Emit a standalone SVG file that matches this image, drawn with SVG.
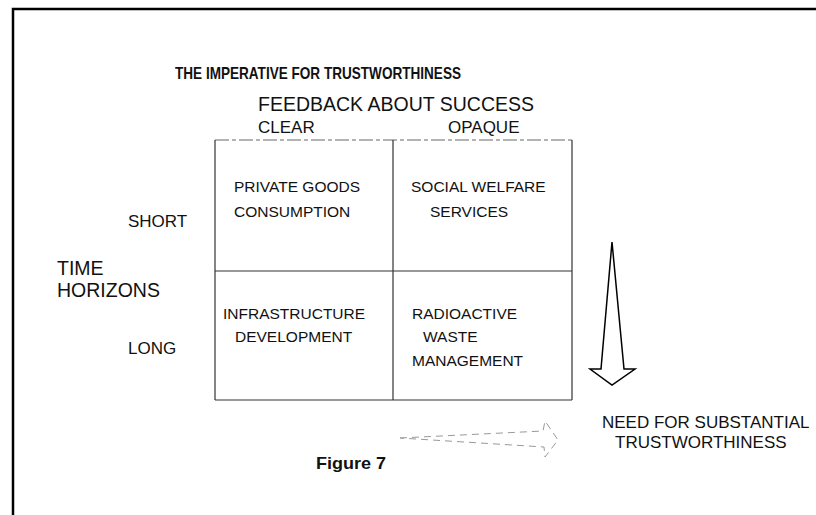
<svg xmlns="http://www.w3.org/2000/svg" width="816" height="515" viewBox="0 0 816 515">
<style>
text{font-family:"Liberation Sans",Arial,Helvetica,sans-serif;fill:#111}
.b{font-weight:bold}
.grid{stroke:#333;stroke-width:1.2;fill:none}
.faint{stroke:#666;stroke-width:1;stroke-dasharray:14 3 4 3}
.frame{stroke:#000;stroke-width:2.5;fill:none}
.cell{font-size:15.5px}
.ax{font-size:17px}
.big{font-size:19.5px}
</style>
<rect width="816" height="515" fill="#fff"/>
<g id="frame">
<polyline class="frame" points="13,515 13,9 816,9"/>
</g>
<g id="title">
<text class="b" x="175" y="79" font-size="16.5" textLength="286" lengthAdjust="spacingAndGlyphs">THE IMPERATIVE FOR TRUSTWORTHINESS</text>
</g>
<g id="feedback-axis">
<text class="big" x="258" y="111" textLength="276" lengthAdjust="spacingAndGlyphs">FEEDBACK ABOUT SUCCESS</text>
<text class="ax" x="258" y="133">CLEAR</text>
<text class="ax" x="448" y="133">OPAQUE</text>
</g>
<g id="time-axis">
<text class="big" x="57" y="275">TIME</text>
<text class="big" x="57" y="297">HORIZONS</text>
<text class="ax" x="128" y="227">SHORT</text>
<text class="ax" x="128" y="354">LONG</text>
</g>
<g id="grid">
<line class="grid faint" x1="215" y1="140" x2="572" y2="140"/>
<line class="grid" x1="215" y1="140" x2="215" y2="400"/>
<line class="grid" x1="572" y1="140" x2="572" y2="400"/>
<line class="grid" x1="215" y1="400" x2="572" y2="400"/>
<line class="grid" x1="215" y1="271" x2="572" y2="271"/>
<line class="grid" x1="393" y1="140" x2="393" y2="400"/>
</g>
<g id="cell-private">
<text class="cell" x="234" y="192">PRIVATE GOODS</text>
<text class="cell" x="234" y="217">CONSUMPTION</text>
</g>
<g id="cell-social">
<text class="cell" x="411" y="192">SOCIAL WELFARE</text>
<text class="cell" x="430" y="217">SERVICES</text>
</g>
<g id="cell-infra">
<text class="cell" x="223" y="319">INFRASTRUCTURE</text>
<text class="cell" x="235" y="342">DEVELOPMENT</text>
</g>
<g id="cell-radio">
<text class="cell" x="412" y="319">RADIOACTIVE</text>
<text class="cell" x="423" y="342">WASTE</text>
<text class="cell" x="412" y="366">MANAGEMENT</text>
</g>
<g id="connectors">
<polygon points="612,242 624,369 635,369 612,385 590,369 601,369" fill="#fff" stroke="#000" stroke-width="1.5" stroke-linejoin="miter"/>
<polygon points="400,438 543,431 545,421 558,440 545,457 544,447" fill="none" stroke="#999" stroke-width="1" stroke-dasharray="7 5"/>
</g>
<g id="need">
<text class="ax" x="602" y="428">NEED FOR SUBSTANTIAL</text>
<text class="ax" x="615" y="448">TRUSTWORTHINESS</text>
</g>
<g id="caption">
<text class="b" x="316" y="469" font-size="17" textLength="70" lengthAdjust="spacingAndGlyphs">Figure 7</text>
</g>
</svg>
